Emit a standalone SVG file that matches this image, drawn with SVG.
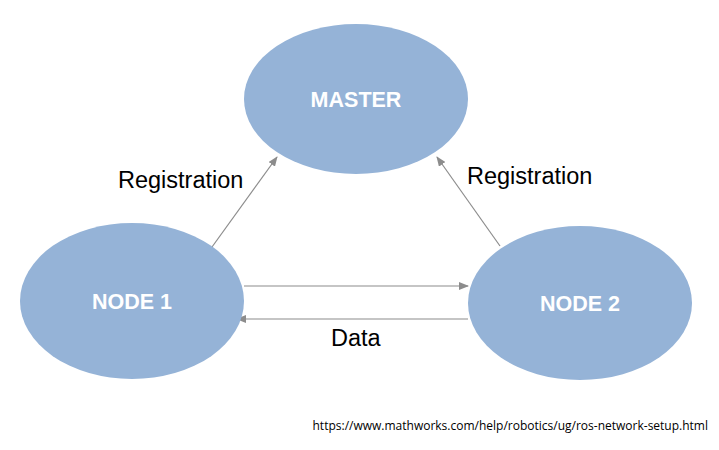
<svg xmlns="http://www.w3.org/2000/svg" width="719" height="450" viewBox="0 0 719 450">
<defs>
<style>
.node{fill:#95b3d7;}
.nt{font-family:"Liberation Sans",Arial,sans-serif;font-weight:bold;font-size:21.5px;fill:#fff;text-anchor:middle;}
.lbl{font-family:"Liberation Sans",Arial,sans-serif;font-size:23.5px;fill:#000;}
.url{font-family:"Open Sans","Liberation Sans",sans-serif;font-size:12px;fill:#000;text-anchor:end;}
.c{stroke:#8c8c8c;stroke-width:1.2;fill:none;marker-end:url(#ah);}
</style>
<marker id="ah" markerWidth="10" markerHeight="8" refX="9" refY="4" orient="auto" markerUnits="userSpaceOnUse">
<path d="M0,0 L10,4 L0,8 Z" fill="#8c8c8c"/>
</marker>
</defs>
<rect width="719" height="450" fill="#fff"/>
<g id="connectors">
<line class="c" x1="212" y1="247" x2="277" y2="157"/>
<line class="c" x1="500" y1="246" x2="437" y2="157"/>
<line class="c" x1="244" y1="286" x2="468" y2="286"/>
<line class="c" x1="468" y1="319" x2="237" y2="319"/>
</g>
<g id="master">
<ellipse class="node" cx="356" cy="99" rx="112" ry="75"/>
<text class="nt" x="356" y="107">MASTER</text>
</g>
<g id="node1">
<ellipse class="node" cx="132" cy="301" rx="112" ry="78"/>
<text class="nt" x="132" y="309">NODE 1</text>
</g>
<g id="node2">
<ellipse class="node" cx="580" cy="303" rx="112" ry="77"/>
<text class="nt" x="580" y="311">NODE 2</text>
</g>
<g id="labels">
<text class="lbl" x="118" y="188">Registration</text>
<text class="lbl" x="467" y="184">Registration</text>
<text class="lbl" x="331" y="346">Data</text>
<text class="url" x="708" y="430">https://www.mathworks.com/help/robotics/ug/ros-network-setup.html</text>
</g>
</svg>
